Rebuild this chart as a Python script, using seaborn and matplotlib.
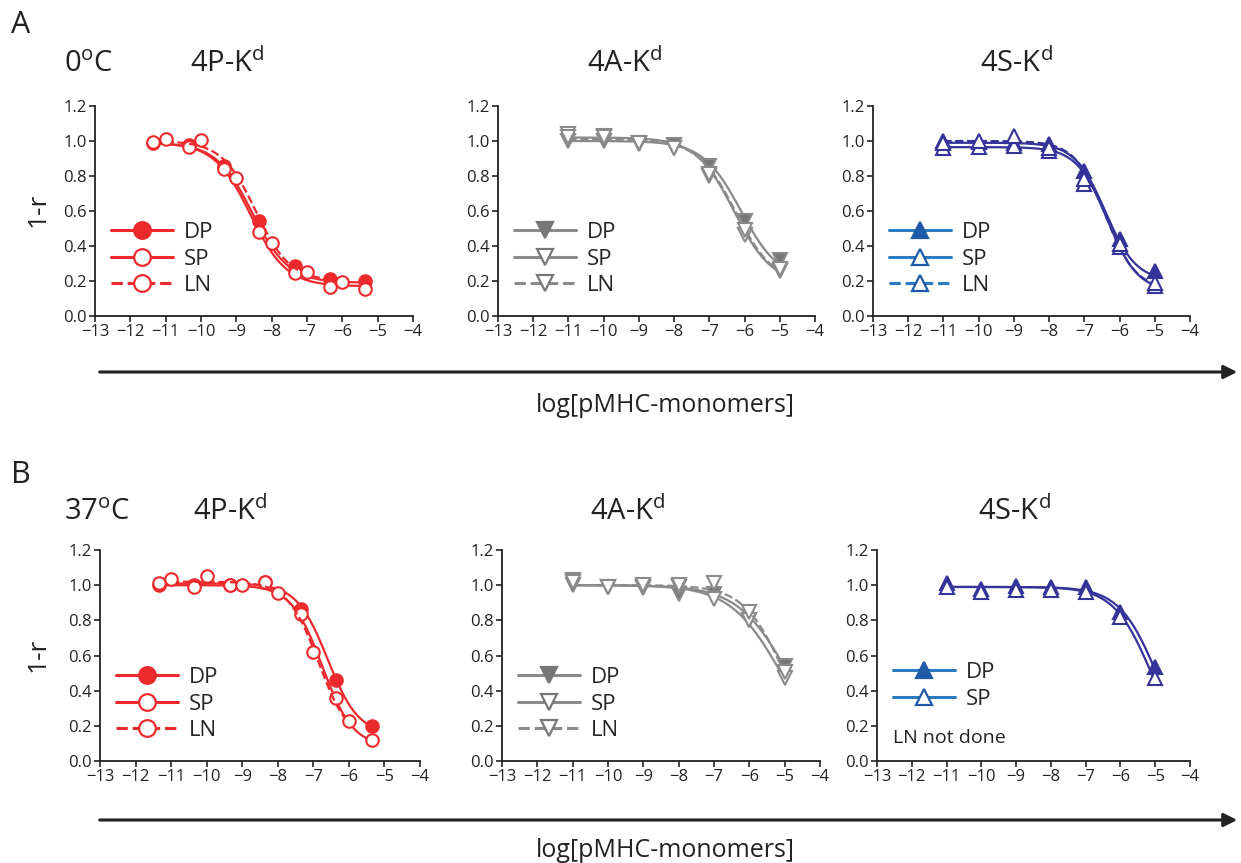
import numpy as np
import pandas as pd
import matplotlib
matplotlib.use("Agg")
import matplotlib.pyplot as plt
from matplotlib.lines import Line2D
from matplotlib.patches import FancyArrowPatch
import seaborn as sns

sns.set_theme(style='ticks', context='notebook')
plt.rcParams['font.family'] = ['Open Sans', 'DejaVu Sans']
plt.rcParams['mathtext.fontset'] = 'custom'
plt.rcParams['mathtext.rm'] = 'Open Sans'

# log[pMHC] doses
LogDoseP = [-11.35, -10.35, -9.35, -8.35, -7.35, -6.35, -5.35]
LogDoseLN = [-11, -10, -9, -8, -7, -6]
LogDose = [-11, -10, -9, -8, -7, -6, -5]

# 0 C, 1-r values
P0_DP = [0.99, 0.975, 0.855, 0.54, 0.285, 0.214, 0.199]
P0_SP = [0.993, 0.966, 0.842, 0.478, 0.243, 0.165, 0.157]
P0_LN = [1.014, 1.005, 0.789, 0.415, 0.249, 0.195]
A0_DP = [1.0, 1.0, 0.985, 0.975, 0.855, 0.545, 0.32]
A0_SP = [1.04, 1.03, 0.99, 0.96, 0.80, 0.46, 0.26]
A0_LN = [1.02, 1.02, 0.99, 0.96, 0.81, 0.49, 0.27]
S0_DP = [1.0, 0.995, 0.99, 0.98, 0.83, 0.44, 0.256]
S0_SP = [0.96, 0.965, 0.97, 0.94, 0.755, 0.396, 0.172]
S0_LN = [0.99, 1.0, 1.03, 0.96, 0.78, 0.41, 0.19]
# 37 C
P37_DP = [1.0, 1.0, 1.0, 1.02, 0.865, 0.463, 0.197]
P37_SP = [1.01, 0.99, 1.0, 1.02, 0.835, 0.36, 0.118]
P37_LN = [1.035, 1.05, 1.0, 0.957, 0.62, 0.228]
A37_DP = [1.0, 0.99, 0.985, 0.952, 0.95, 0.80, 0.543]
A37_SP = [1.028, 0.987, 0.99, 0.99, 0.924, 0.80, 0.47]
A37_LN = [1.02, 0.99, 1.0, 1.0, 1.01, 0.848, 0.505]
S37_DP = [1.01, 0.98, 0.996, 0.987, 0.987, 0.848, 0.533]
S37_SP = [0.99, 0.962, 0.975, 0.97, 0.962, 0.819, 0.472]

# sigmoid fits: top, bottom, logEC50, hill
Fit_P0 = {'DP': (0.99, 0.19, -8.55, 0.85), 'SP': (0.99, 0.17, -8.6, 0.85), 'LN': (1.0, 0.2, -8.45, 0.9)}
Fit_A0 = {'DP': (1.0, 0.2, -6.1, 0.8), 'SP': (1.02, 0.18, -6.3, 0.8), 'LN': (1.01, 0.18, -6.25, 0.8)}
Fit_S0 = {'DP': (0.99, 0.2, -6.4, 1.0), 'SP': (0.965, 0.14, -6.35, 1.0), 'LN': (1.0, 0.15, -6.4, 1.0)}
Fit_P37 = {'DP': (1.01, 0.15, -6.6, 1.0), 'SP': (1.0, 0.08, -6.75, 1.0), 'LN': (1.02, 0.1, -6.85, 1.0)}
Fit_A37 = {'DP': (1.0, 0.0, -4.9, 0.6), 'SP': (1.0, 0.0, -5.1, 0.6), 'LN': (1.0, 0.0, -5.0, 0.75)}
Fit_S37 = {'DP': (0.99, 0.0, -4.95, 0.8), 'SP': (0.99, 0.0, -5.1, 0.8)}

Red = '#ec2a2e'
Grey = '#8a8a8a'
GreyDark = '#777777'
Blue = '#33339a'
BlueLeg = '#2a7bc0'
BlueLegFill = '#1f5aa6'

W, H = 1241, 863
fig = plt.figure(figsize=(W / 100, H / 100), dpi=100)


def rect(l, r, t, b):
    return [l / W, 1 - b / H, (r - l) / W, (b - t) / H]


def fx(x):
    return x / W


def fy(y):
    return 1 - y / H


def curve(x, p):
    top, bot, ec, h = p
    xs = np.linspace(min(x), max(x), 200)
    return xs, bot + (top - bot) / (1 + 10 ** ((xs - ec) * h))


def panel(ax, series, fits, color, marker, fillcol, legcol, legfill, ms=9, leg_y=0.02):
    for name, x, y in series:
        ls = '--' if name == 'LN' else '-'
        xs, ys = curve(x, fits[name])
        sns.lineplot(x=xs, y=ys, ax=ax, color=color, linestyle=ls, linewidth=1.6)
        face = fillcol if name == 'DP' else 'white'
        sns.lineplot(x=x, y=y, ax=ax, color=color, linestyle='', marker=marker,
                     markersize=ms, markerfacecolor=face, markeredgecolor=color,
                     markeredgewidth=1.5)
    ax.set_xlim(-13, -4)
    ax.set_ylim(0, 1.2)
    ax.set_xticks(range(-13, -3))
    ax.set_yticks(np.arange(0, 1.21, 0.2))
    ax.set_yticklabels([f'{v:.1f}' for v in np.arange(0, 1.21, 0.2)])
    ax.tick_params(labelsize=12, length=4, width=1.2, colors='#222222', pad=2)
    for s in ['left', 'bottom']:
        ax.spines[s].set_linewidth(1.3)
        ax.spines[s].set_color('#222222')
    sns.despine(ax=ax)
    ax.set_xlabel('')
    ax.set_ylabel('')
    handles = []
    labels = []
    for name, x, y in series:
        ls = '--' if name == 'LN' else '-'
        face = legfill if name == 'DP' else 'white'
        handles.append(Line2D([], [], color=legcol, linestyle=ls, linewidth=2.2, marker=marker,
                              markersize=12, markerfacecolor=face, markeredgecolor=legfill,
                              markeredgewidth=1.6))
        labels.append(name)
    ax.legend(handles, labels, loc='lower left', bbox_to_anchor=(0.0, leg_y), frameon=False,
              fontsize=16, handlelength=2.8, handletextpad=0.5, labelspacing=0.25,
              borderaxespad=0.3)


axA1 = fig.add_axes(rect(95, 413, 106, 316))
axA2 = fig.add_axes(rect(498, 815, 106, 316))
axA3 = fig.add_axes(rect(873, 1190, 106, 316))
axB1 = fig.add_axes(rect(100, 420, 550, 761))
axB2 = fig.add_axes(rect(502, 820, 550, 761))
axB3 = fig.add_axes(rect(877, 1190, 550, 761))

panel(axA1, [('DP', LogDoseP, P0_DP), ('SP', LogDoseP, P0_SP), ('LN', LogDoseLN, P0_LN)],
      Fit_P0, Red, 'o', Red, Red, Red)
panel(axA2, [('DP', LogDose, A0_DP), ('SP', LogDose, A0_SP), ('LN', LogDose, A0_LN)],
      Fit_A0, Grey, 'v', GreyDark, Grey, GreyDark, ms=10)
panel(axA3, [('DP', LogDose, S0_DP), ('SP', LogDose, S0_SP), ('LN', LogDose, S0_LN)],
      Fit_S0, Blue, '^', Blue, BlueLeg, BlueLegFill, ms=10)
panel(axB1, [('DP', LogDoseP, P37_DP), ('SP', LogDoseP, P37_SP), ('LN', LogDoseLN, P37_LN)],
      Fit_P37, Red, 'o', Red, Red, Red)
panel(axB2, [('DP', LogDose, A37_DP), ('SP', LogDose, A37_SP), ('LN', LogDose, A37_LN)],
      Fit_A37, Grey, 'v', GreyDark, Grey, GreyDark, ms=10)
panel(axB3, [('DP', LogDose, S37_DP), ('SP', LogDose, S37_SP)],
      Fit_S37, Blue, '^', Blue, BlueLeg, BlueLegFill, ms=10, leg_y=0.17)
fig.text(fx(893), fy(738), 'LN not done', fontsize=14, va='center', ha='left', color='#222222')

# panel letters and titles
txt = dict(color='#222222')
fig.text(fx(11), fy(25), 'A', fontsize=22, va='center', ha='left', **txt)
fig.text(fx(11), fy(475), 'B', fontsize=22, va='center', ha='left', **txt)
fig.text(fx(64), fy(72), r'0$^{\mathrm{o}}$C', fontsize=21, va='baseline', **txt)
fig.text(fx(64), fy(520), r'37$^{\mathrm{o}}$C', fontsize=21, va='baseline', **txt)
for lx, by, lab in [(190, 72, '4P'), (587, 72, '4A'), (980, 72, '4S'),
                    (193, 520, '4P'), (590, 520, '4A'), (978, 520, '4S')]:
    fig.text(fx(lx), fy(by), lab + r'-K$^{\mathrm{d}}$', fontsize=21, va='baseline', **txt)
for cy in [210, 655]:
    fig.text(fx(38), fy(cy), '1-r', fontsize=19, rotation=90, va='center', ha='center', **txt)

# dose arrows
for ay, ly in [(372, 406), (820, 850)]:
    fig.add_artist(FancyArrowPatch((fx(97), fy(ay)), (fx(1240), fy(ay)), transform=fig.transFigure,
                                   arrowstyle='-|>', mutation_scale=20, linewidth=2.2, color='#222222'))
    fig.text(fx(665), fy(ly), 'log[pMHC-monomers]', fontsize=18, va='center', ha='center', **txt)

plt.savefig('out.png', dpi=100)
